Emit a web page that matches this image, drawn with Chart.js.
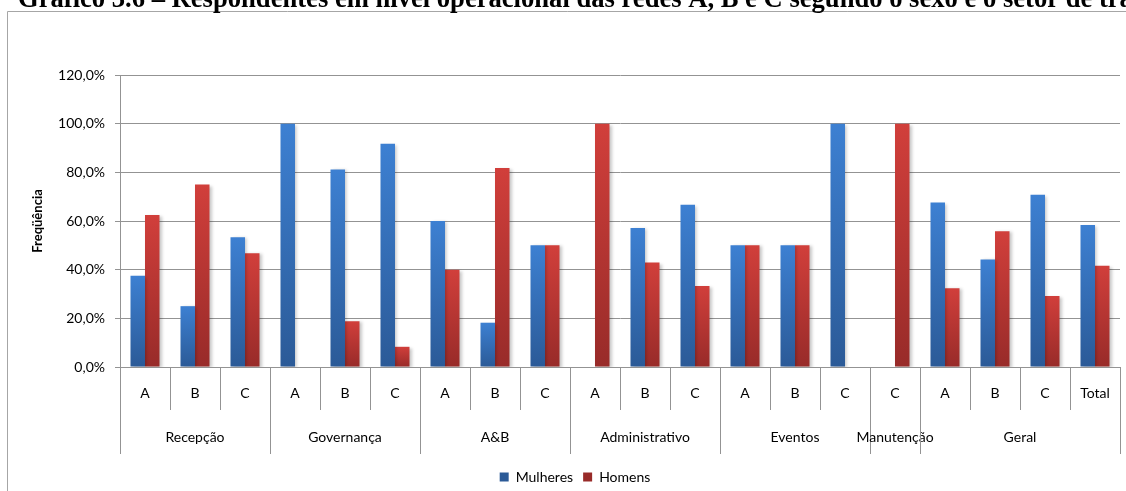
<!DOCTYPE html>
<html lang="pt-BR">
<head>
<meta charset="utf-8">
<title>Gráfico 3.6</title>
<script src="https://cdn.jsdelivr.net/npm/chart.js@4.4.1/dist/chart.umd.min.js"></script>
<style>
  html, body { margin: 0; padding: 0; background: #fff; }
  canvas { display: block; }
</style>
</head>
<body>
<canvas id="setorChart" width="1126" height="491"></canvas>
<script>
const titulo = 'Gráfico 3.6 – Respondentes em nível operacional das redes A, B e C segundo o sexo e o setor de trabalho';

// Redes (primeiro nível do eixo X)
const redes = ['A', 'B', 'C', 'A', 'B', 'C', 'A', 'B', 'C', 'A', 'B', 'C', 'A', 'B', 'C', 'C', 'A', 'B', 'C', 'Total'];

// Setores (segundo nível) e quantas colunas cada um ocupa
const setores = ['Recepção', 'Governança', 'A&B', 'Administrativo', 'Eventos', 'Manutenção', 'Geral'];
const colunasPorSetor = [3, 3, 3, 3, 3, 1, 4];

// Percentuais por sexo
const mulheres = [37.5, 25.0, 53.3, 100.0, 81.2, 91.7, 60.0, 18.2, 50.0, 0.0, 57.1, 66.7, 50.0, 50.0, 100.0, 0.0, 67.6, 44.2, 70.8, 58.4];
const homens = [62.5, 75.0, 46.7, 0.0, 18.8, 8.3, 40.0, 81.8, 50.0, 100.0, 42.9, 33.3, 50.0, 50.0, 0.0, 100.0, 32.4, 55.8, 29.2, 41.6];

const fonte = 'Lato';
const cinza = '#939393';

// Degradê vertical em cada barra (claro no topo, escuro na base)
function gradiente(claro, escuro, solido) {
    return function (context) {
        const chart = context.chart;
        if (context.type !== 'data' || !chart.chartArea) return solido;
        const y = chart.scales.y;
        const topo = y.getPixelForValue(context.parsed.y);
        const base = y.getPixelForValue(0);
        if (base - topo < 1) return solido;
        const g = chart.ctx.createLinearGradient(0, topo, 0, base);
        g.addColorStop(0, claro);
        g.addColorStop(1, escuro);
        return g;
    };
}

// Moldura e título por cima do gráfico
const moldura = {
    id: 'moldura',
    beforeDraw(chart) {
        const c = chart.ctx;
        c.save();
        c.fillStyle = '#fff';
        c.fillRect(0, 0, chart.width, chart.height);
        c.strokeStyle = '#a6a6a6';
        c.lineWidth = 1;
        c.beginPath();
        c.moveTo(7.5, chart.height + 2);
        c.lineTo(7.5, 11.5);
        c.lineTo(chart.width + 2, 11.5);
        c.stroke();
        c.font = 'bold 26.6px "Liberation Serif"';
        c.fillStyle = '#000';
        c.textBaseline = 'alphabetic';
        c.fillText(titulo, 18, 7);
        c.restore();
    }
};

// Sombra leve atrás das barras
const sombra = {
    id: 'sombra',
    beforeDatasetsDraw(chart) {
        const c = chart.ctx;
        c.save();
        c.shadowColor = 'rgba(0, 0, 0, 0.22)';
        c.shadowBlur = 3;
        c.shadowOffsetX = 2;
        c.shadowOffsetY = 1;
    },
    afterDatasetsDraw(chart) {
        chart.ctx.restore();
    }
};

// Segundo nível do eixo X: divisórias longas e nomes dos setores
const grupos = {
    id: 'grupos',
    afterDraw(chart) {
        const x = chart.scales.x;
        const area = chart.chartArea;
        const c = chart.ctx;
        const borda = i => {
            if (i === 0) return area.left;
            if (i === redes.length) return area.right;
            return (x.getPixelForValue(i - 1) + x.getPixelForValue(i)) / 2;
        };
        c.save();
        c.strokeStyle = cinza;
        c.lineWidth = 1;
        c.font = '14px ' + fonte;
        c.fillStyle = '#000';
        c.textAlign = 'center';
        c.textBaseline = 'middle';
        let inicio = 0;
        setores.forEach((nome, k) => {
            const fim = inicio + colunasPorSetor[k];
            const x0 = borda(inicio);
            const x1 = borda(fim);
            [x0, x1].forEach(px => {
                const p = Math.round(px - 0.5) + 0.5;
                c.beginPath();
                c.moveTo(p, area.bottom);
                c.lineTo(p, area.bottom + 87);
                c.stroke();
            });
            c.fillText(nome, (x0 + x1) / 2, area.bottom + 70);
            inicio = fim;
        });
        c.restore();
    }
};

const ctx = document.getElementById('setorChart').getContext('2d');

new Chart(ctx, {
    type: 'bar',
    data: {
        labels: redes,
        datasets: [
            {
                label: 'Mulheres',
                data: mulheres,
                backgroundColor: gradiente('#3d80d2', '#2b5a97', '#3a78c6')
            },
            {
                label: 'Homens',
                data: homens,
                backgroundColor: gradiente('#d13f3b', '#982b29', '#c53a36')
            }
        ]
    },
    options: {
        responsive: false,
        animation: false,
        layout: { padding: { top: 75, left: 30, right: 6, bottom: -3 } },
        datasets: {
            bar: { categoryPercentage: 0.58, barPercentage: 1, borderWidth: 0 }
        },
        scales: {
            x: {
                grid: { display: true, drawOnChartArea: false, drawTicks: true, tickLength: 43, color: cinza, offset: true },
                border: { display: false },
                ticks: { padding: -25, color: '#000', font: { family: fonte, size: 14 }, maxRotation: 0, autoSkip: false },
                afterFit: scale => { scale.height = 93; }
            },
            y: {
                min: 0,
                max: 120,
                ticks: {
                    stepSize: 20,
                    padding: 10,
                    color: '#000',
                    font: { family: fonte, size: 14 },
                    callback: v => v.toFixed(1).replace('.', ',') + '%'
                },
                grid: { color: cinza, tickLength: 5 },
                border: { color: cinza },
                title: {
                    display: true,
                    text: 'Freqüência',
                    color: '#000',
                    font: { family: fonte, size: 13, weight: 'bold' },
                    padding: 0
                },
                afterFit: scale => { scale.width = 90; }
            }
        },
        plugins: {
            legend: {
                position: 'bottom',
                labels: { boxWidth: 9, boxHeight: 9, padding: 10, color: '#000', font: { family: fonte, size: 14 } }
            },
            tooltip: { enabled: false }
        }
    },
    plugins: [moldura, sombra, grupos]
});
</script>
</body>
</html>
